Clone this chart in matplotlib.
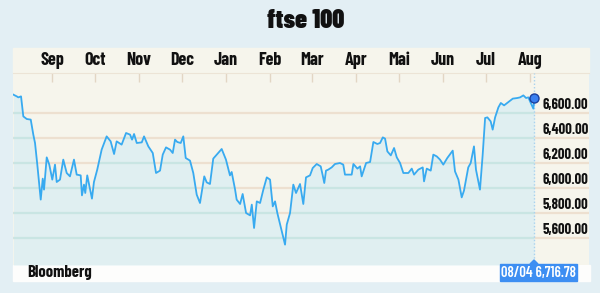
import numpy as np
import pandas as pd
import matplotlib
matplotlib.use("Agg")
import matplotlib.pyplot as plt
import matplotlib.dates as mdates
from matplotlib.patches import Rectangle, Polygon

# ---- data (days counted from 2015-09-01) ----
days = [-27.1, -24.7, -23.6, -21.7, -20.1, -17.7, -14.9, -13.1, -11.9, -10.3,
        -7.9, -6.5, -5.6, -3.7, -1.9, 0.2, 2.1, 3.3, 5.6, 7.9,
        10.3, 12.6, 15.4, 17.3, 20.1, 21.0, 22.4, 23.3, 24.7, 28.0,
        29.4, 31.7, 34.8, 38.3, 41.1, 43.5, 45.3, 48.8, 51.9, 54.7,
        56.1, 57.5, 59.4, 62.9, 64.5, 67.5, 70.6, 72.9, 75.7, 77.6,
        79.9, 82.7, 84.6, 86.2, 87.8, 90.2, 92.0, 93.7, 96.7, 99.0,
        101.4, 103.7, 106.7, 108.4, 110.7, 113.0, 116.5, 118.9, 121.9, 124.7,
        125.9, 128.3, 129.4, 131.8, 133.6, 136.0, 138.8, 140.0, 141.6, 143.5,
        145.8, 148.1, 150.5, 152.8, 154.7, 156.3, 157.9, 161.0, 163.3, 164.5,
        166.8, 169.1, 171.0, 173.8, 176.1, 178.0, 180.8, 182.7, 185.5, 188.3,
        189.7, 190.8, 192.0, 193.6, 196.0, 198.3, 201.8, 204.1, 205.3, 210.0,
        211.2, 214.0, 215.9, 217.0, 220.1, 222.9, 225.2, 228.0, 229.9, 231.8,
        233.4, 235.0, 237.4, 239.7, 241.6, 243.9, 246.2, 249.7, 252.1, 253.7,
        256.7, 259.8, 260.7, 262.6, 265.4, 267.2, 269.6, 271.9, 274.2, 277.0,
        280.8, 282.4, 284.8, 287.1, 288.7, 291.7, 293.4, 295.7, 297.1, 299.9,
        301.8, 303.5, 305.1, 307.4, 308.8, 310.5, 312.8, 314.5, 316.8, 319.8,
        322.9, 326.1, 328.0, 330.3, 332.2, 333.8, 335.5, 337.3, 338.0]
ftse = [6747, 6733, 6725, 6733, 6573, 6552, 6547, 6427, 6360, 6187,
        5907, 6075, 5987, 6245, 6187, 6067, 6187, 6048, 6067, 6227,
        6120, 6093, 6227, 6107, 6101, 5941, 6027, 5960, 6101, 5915,
        6048, 6147, 6307, 6413, 6373, 6272, 6373, 6347, 6440, 6427,
        6387, 6432, 6360, 6365, 6413, 6333, 6280, 6120, 6139, 6267,
        6325, 6307, 6280, 6387, 6368, 6360, 6413, 6240, 6219, 6120,
        5947, 5880, 6093, 6045, 6032, 6235, 6280, 6312, 6227, 6101,
        6128, 5987, 5907, 5872, 5952, 5800, 5781, 5867, 5680, 5893,
        5880, 5987, 6085, 6067, 5853, 5893, 5800, 5653, 5547, 5707,
        5800, 6027, 5960, 6032, 5872, 6085, 6101, 6160, 6192, 6173,
        6101, 6040, 6139, 6147, 6165, 6192, 6200, 6187, 6107, 6107,
        6192, 6155, 6173, 6093, 6200, 6208, 6368, 6352, 6360, 6405,
        6395, 6293, 6261, 6320, 6245, 6200, 6120, 6120, 6155, 6107,
        6147, 6165, 6053, 6155, 6139, 6267, 6253, 6227, 6187, 6240,
        6299, 6133, 6067, 5925, 5979, 6165, 6200, 6333, 6147, 5987,
        6267, 6560, 6565, 6533, 6467, 6565, 6645, 6680, 6661, 6688,
        6715, 6720, 6725, 6741, 6720, 6725, 6680, 6635, 6716.78]
months = ["Sep", "Oct", "Nov", "Dec", "Jan", "Feb", "Mar", "Apr", "Mai",
          "Jun", "Jul", "Aug"]
levels = [5600, 5800, 6000, 6200, 6400, 6600]
last_label = "08/04 6,716.78"

FAMILY = ["Barlow Condensed", "DejaVu Sans"]


def font(size, weight="bold", color="#111111"):
    return {"family": FAMILY, "fontweight": weight, "fontstretch": "condensed",
            "fontsize": size, "color": color}


BG = "#e3eff4"
CREAM = "#f6f5ec"
TAN = "#ede0d0"
CYAN = "#c9e5e3"
LINE = "#38aaf0"

W, H = 600, 293
fig = plt.figure(figsize=(W / 100, H / 100), dpi=100, facecolor=BG)


def fx(px):
    return px / W


def fy(py):
    return 1 - py / H


base = mdates.date2num(pd.Timestamp("2015-09-01"))
x = base + np.array(days)
y = np.array(ftse)
ticks = mdates.date2num(pd.date_range("2015-09-01", periods=12, freq="MS"))

# header band + bottom white band (behind the axes)
fig.patches.append(Rectangle((fx(13), fy(73)), fx(576), 25 / H,
                             transform=fig.transFigure, color=CREAM, zorder=-2))
fig.patches.append(Rectangle((fx(13), fy(281)), fx(577), 16 / H,
                             transform=fig.transFigure, color="#fdfdfc", zorder=-2))

ax = fig.add_axes([fx(13), fy(265), fx(576), 192 / H])
ax.set_facecolor(CREAM)
ax.set_xlim(base - 27.33, base + 376.3)
ax.set_ylim(5384, 6920)

for lv in levels:
    ax.axhline(lv, color=TAN, lw=1.6, zorder=1)
poly = ax.fill_between(x, y, 5384, color="#d9eef4", alpha=0.75, lw=0, zorder=2)
clip = poly.get_paths()[0]
for lv in levels:
    gl = ax.axhline(lv, color=CYAN, lw=1.6, zorder=3)
    gl.set_clip_path(clip, transform=ax.transData)
ax.plot(x, y, color=LINE, lw=1.3, zorder=4)
ax.axvline(x[-1], color="#a9d2ee", lw=1, ls=(0, (1, 1.5)), zorder=3)
ax.plot(x[-1], y[-1], "o", ms=6.5, mfc="#3a7ff0", mec="#1b3f9c", mew=1, zorder=5)

for lv in levels:
    ax.annotate(f"{lv:,.2f}", xy=(0.919, lv), xycoords=("axes fraction", "data"),
                xytext=(0, 1), textcoords="offset points", ha="left",
                va="bottom", **font(10.5))

ax.set_yticks([])
ax.set_xticks(ticks)
ax.xaxis.tick_top()
ax.set_xticklabels(months)
for lab in ax.get_xticklabels():
    lab.update(font(13))
ax.tick_params(axis="x", direction="in", length=6.5, width=1, color="#e2d6c4",
               pad=3)
for s in ["left", "right", "bottom"]:
    ax.spines[s].set_visible(False)
ax.spines["top"].set_color("#ece4d6")
ax.spines["top"].set_linewidth(0.8)

fig.text(fx(306), fy(21), "ftse 100", ha="center", va="center",
         **font(19, weight=900))
fig.text(fx(27), fy(273), "Bloomberg", ha="left", va="center", **font(12))

# value tag under the last point
fig.patches.append(Rectangle((fx(500), fy(281)), fx(77), 17 / H,
                             transform=fig.transFigure, color="#3d8ef2", zorder=3))
fig.patches.append(Polygon([(fx(530), fy(264)), (fx(538), fy(264)),
                            (fx(534), fy(260))], closed=True,
                           transform=fig.transFigure, color="#3d8ef2", zorder=3))
fig.text(fx(538.5), fy(272.5), last_label, ha="center", va="center", zorder=4,
         **font(10.5, weight=600, color="white"))

fig.savefig("out.png", dpi=100, facecolor=BG)
